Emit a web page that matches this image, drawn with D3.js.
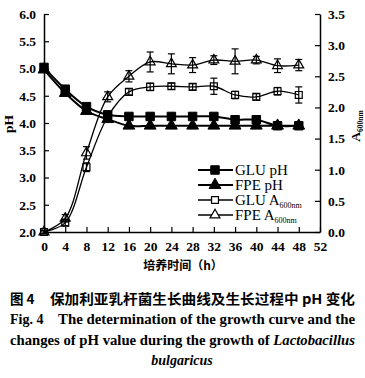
<!DOCTYPE html>
<html><head><meta charset="utf-8">
<script src="https://cdn.jsdelivr.net/npm/d3@7"></script>
<style>body{margin:0;background:#fff}svg{display:block}</style>
</head><body>
<script>
const hours = [0,4,8,12,16,20,24,28,32,36,40,44,48];
const gluPH = [5.02,4.62,4.3,4.15,4.12,4.12,4.12,4.12,4.12,4.06,4.06,3.95,3.95];
const fpePH = [4.98,4.55,4.22,4.07,3.95,3.95,3.95,3.95,3.95,3.95,3.95,3.95,3.95];
const gluA = [0.0,0.15,1.04,1.85,2.25,2.33,2.34,2.33,2.34,2.2,2.17,2.26,2.2];
const gluAErr = [0.02,0.05,0.07,0.05,0.05,0.06,0.05,0.05,0.13,0.06,0.05,0.06,0.13];
const fpeA = [0.0,0.22,1.27,2.17,2.5,2.73,2.7,2.68,2.76,2.74,2.76,2.67,2.68];
const fpeAErr = [0.02,0.06,0.1,0.08,0.09,0.16,0.16,0.12,0.07,0.2,0.06,0.11,0.09];
const xTicks = [0,4,8,12,16,20,24,28,32,36,40,44,48,52];
const phTicks = [2.0,2.5,3.0,3.5,4.0,4.5,5.0,5.5,6.0];
const aTicks = [0.0,0.5,1.0,1.5,2.0,2.5,3.0,3.5];

const W=365,H=378;
const svg=d3.select("body").append("svg").attr("width",W).attr("height",H);
const x=d3.scaleLinear().domain([0,52]).range([44,320]);
const yL=d3.scaleLinear().domain([2,6]).range([232,14]);
const yR=d3.scaleLinear().domain([0,3.5]).range([232,14]);
const serif="'Liberation Serif','Times New Roman',serif";
const cjk="'Noto Sans CJK SC',sans-serif";

function styleAxis(g){
  g.select(".domain").attr("stroke","#000").attr("stroke-width",1.5);
  g.selectAll(".tick line").attr("stroke","#000").attr("stroke-width",1.2);
  g.selectAll(".tick text").attr("font-family",serif).attr("font-size",13.5).attr("font-weight","bold").attr("fill","#000");
}
svg.append("g").attr("transform","translate(0,232)")
  .call(d3.axisBottom(x).tickValues(xTicks).tickSize(-5).tickSizeOuter(0).tickPadding(9).tickFormat(d3.format("d")))
  .call(styleAxis);
svg.append("g").attr("transform","translate(44,0)")
  .call(d3.axisLeft(yL).tickValues(phTicks).tickSize(-5).tickSizeOuter(0).tickPadding(8).tickFormat(d3.format(".1f")))
  .call(styleAxis);
svg.append("g").attr("transform","translate(320,0)")
  .call(d3.axisRight(yR).tickValues(aTicks).tickSize(-5).tickSizeOuter(0).tickPadding(8).tickFormat(d3.format(".1f")))
  .call(styleAxis);

// axis titles
svg.append("text").attr("transform","translate(13,124) rotate(-90)").attr("text-anchor","middle")
  .attr("font-family",serif).attr("font-size",13.5).attr("font-weight","bold").text("pH");
const rt=svg.append("text").attr("transform","translate(360,126) rotate(-90)").attr("text-anchor","middle")
  .attr("font-family",serif).attr("font-size",13.5).attr("font-weight","bold");
rt.append("tspan").text("A");
rt.append("tspan").attr("font-size",7.5).attr("dy",3).text("600nm");

svg.append("text").attr("x",183).attr("y",270).attr("text-anchor","middle")
  .attr("font-family",cjk).attr("font-size",12).attr("font-weight","bold").text("培养时间（h）");

// lines
const line=(ys,sc)=>d3.line().x((d,i)=>x(hours[i])).y(d=>sc(d)).curve(d3.curveCatmullRom.alpha(0.5))(ys);
const gPlot=svg.append("g");
[[gluA,yR],[fpeA,yR]].forEach(([v,s])=>gPlot.append("path").attr("d",line(v,s)).attr("fill","none").attr("stroke","#000").attr("stroke-width",1.3));
[[gluPH,yL],[fpePH,yL]].forEach(([v,s])=>gPlot.append("path").attr("d",line(v,s)).attr("fill","none").attr("stroke","#000").attr("stroke-width",2));

// error bars
function errBars(v,e){
  v.forEach((d,i)=>{
    const cx=x(hours[i]),y1=yR(d+e[i]),y2=yR(d-e[i]);
    gPlot.append("line").attr("x1",cx).attr("x2",cx).attr("y1",y1).attr("y2",y2).attr("stroke","#000").attr("stroke-width",1.2);
    [y1,y2].forEach(yy=>gPlot.append("line").attr("x1",cx-3.5).attr("x2",cx+3.5).attr("y1",yy).attr("y2",yy).attr("stroke","#000").attr("stroke-width",1.2));
  });
}
errBars(gluA,gluAErr);
errBars(fpeA,fpeAErr);

const sq=d3.symbol().type(d3.symbolSquare);
const tri=d3.symbol().type(d3.symbolTriangle);
function markers(v,s,sym,size,filled){
  v.forEach((d,i)=>{
    gPlot.append("path").attr("d",sym.size(size)()).attr("transform",`translate(${x(hours[i])},${s(d)})`)
      .attr("fill",filled?"#000":"none").attr("stroke","#000").attr("stroke-width",filled?1:1.2);
  });
}
markers(gluA,yR,sq,48,false);
markers(fpeA,yR,tri,42,false);
markers(fpePH,yL,tri,60,true);
markers(gluPH,yL,sq,72,true);

// legend
const legend=[
  {label:"GLU pH",sub:"",sym:sq,size:72,filled:true,lw:2},
  {label:"FPE pH",sub:"",sym:tri,size:60,filled:true,lw:2},
  {label:"GLU A",sub:"600nm",sym:sq,size:48,filled:false,lw:1.3},
  {label:"FPE A",sub:"600nm",sym:tri,size:42,filled:false,lw:1.3}
];
legend.forEach((l,i)=>{
  const yy=170+i*15;
  svg.append("line").attr("x1",198).attr("x2",233).attr("y1",yy).attr("y2",yy).attr("stroke","#000").attr("stroke-width",l.lw);
  svg.append("path").attr("d",l.sym.size(l.size)()).attr("transform",`translate(215,${yy})`)
    .attr("fill",l.filled?"#000":"#fff").attr("stroke","#000").attr("stroke-width",l.filled?1:1.2);
  const t=svg.append("text").attr("x",235).attr("y",yy+5).attr("font-family",serif).attr("font-size",15);
  t.append("tspan").text(l.label);
  if(l.sub) t.append("tspan").attr("font-size",8).attr("dy",2.5).text(l.sub);
});

// caption
const cap=svg.append("g").attr("font-weight","bold").attr("fill","#000");
cap.append("text").attr("x",10).attr("y",304).attr("font-family",cjk).attr("font-size",13.5).text("图 4");
cap.append("text").attr("x",50).attr("y",304).attr("font-family",cjk).attr("font-size",13.5)
  .attr("textLength",305).attr("lengthAdjust","spacingAndGlyphs")
  .text("保加利亚乳杆菌生长曲线及生长过程中 pH 变化");
cap.append("text").attr("x",10).attr("y",324).attr("font-family",serif).attr("font-size",14).text("Fig. 4");
cap.append("text").attr("x",58).attr("y",324).attr("font-family",serif).attr("font-size",14)
  .attr("textLength",297).attr("lengthAdjust","spacingAndGlyphs")
  .text("The determination of the growth curve and the");
const l3=cap.append("text").attr("x",10).attr("y",345).attr("font-family",serif).attr("font-size",14)
  .attr("textLength",345).attr("lengthAdjust","spacingAndGlyphs");
l3.append("tspan").text("changes of pH value during the growth of ");
l3.append("tspan").attr("font-style","italic").text("Lactobacillus");
cap.append("text").attr("x",182).attr("y",365).attr("text-anchor","middle").attr("font-family",serif).attr("font-size",14)
  .attr("font-style","italic").text("bulgaricus");
</script>
</body></html>
